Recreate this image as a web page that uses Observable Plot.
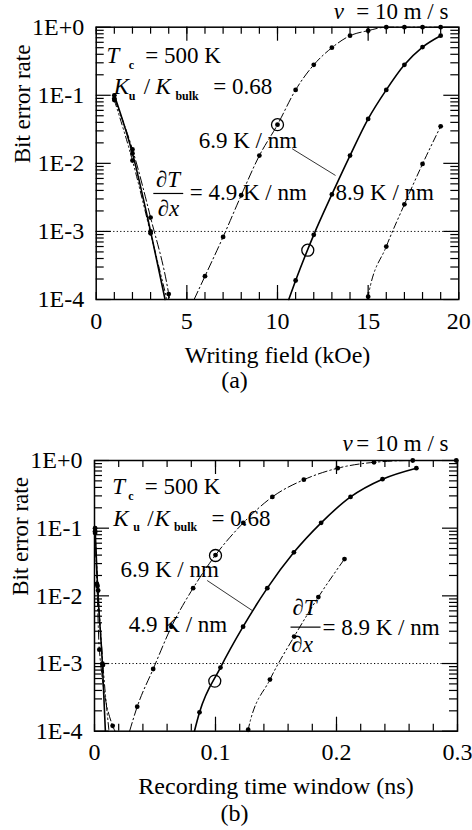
<!DOCTYPE html>
<html>
<head>
<meta charset="utf-8">
<script src="https://cdn.jsdelivr.net/npm/d3@7"></script>
<script src="https://cdn.jsdelivr.net/npm/@observablehq/plot@0.6"></script>
<style>
  html, body { margin: 0; padding: 0; background: #fff; }
  #chart svg { display: block; }
</style>
</head>
<body>
<div id="chart"></div>
<script>
// ---------------- Data ----------------
// Panel (a): bit error rate vs writing field (kOe)
const fieldA_49 = [6, 7, 8, 9, 10, 11, 12, 13, 14, 15, 16, 17, 18, 19];
const berA_49   = [2.2e-4, 8.3e-4, 3.4e-3, 1.3e-2, 3.7e-2, 0.12, 0.28, 0.5, 0.75, 0.89, 1, 1, 1, 1];
const fieldA_69 = [11, 12, 13, 14, 15, 16, 17, 18, 19];
const berA_69   = [1.9e-4, 8.9e-4, 3.5e-3, 1.3e-2, 4.5e-2, 0.12, 0.28, 0.51, 0.75];
const fieldA_89 = [15, 16, 17, 18, 19];
const berA_89   = [1.1e-4, 6e-4, 2.5e-3, 9.8e-3, 3.5e-2];
// low-field (falling) branch
const fieldA_low49 = [1, 2, 3, 4];
const berA_low49   = [0.09, 1.6e-2, 1.6e-3, 1.2e-4];
const fieldA_low69 = [1, 2, 3];
const berA_low69   = [0.1, 1.4e-2, 1.0e-3];
const fieldA_low89 = [1, 2, 3];
const berA_low89   = [0.085, 1.1e-2, 9.4e-4];
// where each drawn curve meets the 1E-4 axis: [low branch, high branch]
const edgeA_49 = [4.05, 5.4];
const edgeA_69 = [3.8, 10.62];
const edgeA_89 = [3.9, 15.0];
// open-circle markers
const circA_x = [10, 11.67];
const circA_y = [3.7e-2, 5.3e-4];

// Panel (b): bit error rate vs recording time window (ns)
const timeB_49 = [0.0353, 0.0485, 0.0636, 0.0815, 0.1, 0.123, 0.147, 0.173, 0.201, 0.231, 0.263, 0.299];
const berB_49  = [2.3e-4, 8.3e-4, 3.5e-3, 1.3e-2, 4.0e-2, 0.12, 0.29, 0.52, 0.77, 0.94, 1, 1];
const timeB_69 = [0.0868, 0.1041, 0.1228, 0.1428, 0.1648, 0.1873, 0.2116, 0.238, 0.266];
const berB_69  = [1.9e-4, 8.7e-4, 3.5e-3, 1.3e-2, 4.4e-2, 0.12, 0.29, 0.53, 0.77];
const timeB_89 = [0.127, 0.145, 0.165, 0.185, 0.2066];
const berB_89  = [1.05e-4, 5.8e-4, 2.5e-3, 9.6e-3, 3.5e-2];
const timeB_low49 = [0.0005, 0.002, 0.004, 0.015];
const berB_low49  = [0.09, 1.5e-2, 1.6e-3, 1.2e-4];
const timeB_low69 = [0.0005, 0.0025, 0.0065];
const berB_low69  = [0.1, 1.4e-2, 1.0e-3];
const timeB_low89 = [0.0005, 0.003, 0.007];
const berB_low89  = [0.085, 1.2e-2, 9.5e-4];
const edgeB_49 = [0.017, 0.029];
const edgeB_69 = [0.009, 0.0826];
const edgeB_89 = [0.012, 0.127];
const circB_x = [0.1, 0.0994];
const circB_y = [3.95e-2, 5.5e-4];

// Axis tick values and labels
const yTickVals   = [1e-4, 1e-3, 1e-2, 1e-1, 1];
const yTickLabels = ["1E-4", "1E-3", "1E-2", "1E-1", "1E+0"];
const xTickValsA   = [0, 5, 10, 15, 20];
const xTickLabelsA = ["0", "5", "10", "15", "20"];
const xTickValsB   = [0, 0.1, 0.2, 0.3];
const xTickLabelsB = ["0", "0.1", "0.2", "0.3"];
const levelRef = 1e-3;
const yTitle = "Bit error rate";

// ---------------- Styles ----------------
const FONT = "'Liberation Serif', 'Times New Roman', serif";
const FS = 23;
const FS_TICK = 24;
const SUB = 12;
const styles = {
  "4.9": {stroke: "black", strokeWidth: 1, strokeDasharray: "9,3,1.5,3"},
  "6.9": {stroke: "black", strokeWidth: 1.6, strokeDasharray: null},
  "8.9": {stroke: "black", strokeWidth: 1, strokeDasharray: "7,3,1.5,3,1.5,3"}
};

const pts = (xs, ys) => xs.map((x, i) => ({x, y: ys[i]}));

const yMinor = [];
for (let e = -4; e < 0; e++) for (let m = 2; m <= 9; m++) yMinor.push(m * Math.pow(10, e));

function makePanel(cfg) {
  const {height, mt, mb, ml, mr} = cfg;
  const plotH = height - mt - mb;
  const plotW = 472 - ml - mr;
  const marks = [];
  marks.push(Plot.ruleY([levelRef], {stroke: "black", strokeWidth: 1, strokeDasharray: "1.2,2.3"}));
  // curves
  for (const s of cfg.series) {
    const st = styles[s.key];
    const low = pts(s.lowX, s.lowY).concat([{x: s.edge[0], y: 1e-4}]);
    const high = [{x: s.edge[1], y: 1e-4}].concat(pts(s.highX, s.highY));
    for (const d of [low, high]) {
      marks.push(Plot.line(d, {x: "x", y: "y", curve: "monotone-x", ...st, strokeDasharray: st.strokeDasharray || undefined}));
    }
    marks.push(Plot.dot(pts(s.lowX, s.lowY).concat(pts(s.highX, s.highY)), {x: "x", y: "y", r: 2.4, fill: "black"}));
  }
  marks.push(Plot.dot(pts(cfg.circX, cfg.circY), {x: "x", y: "y", r: 6, stroke: "black", strokeWidth: 1.3, fill: "none"}));
  marks.push(Plot.frame({stroke: "black", strokeWidth: 1.5}));
  // ticks (inward, all four sides)
  const tk = {stroke: "black", strokeWidth: 1.2};
  marks.push(Plot.tickX(cfg.xMinor, {x: d => d, insetTop: plotH - 7, ...tk}));
  marks.push(Plot.tickX(cfg.xMinor, {x: d => d, insetBottom: plotH - 7, ...tk}));
  marks.push(Plot.tickX(cfg.xMajor, {x: d => d, insetTop: plotH - 14, ...tk}));
  marks.push(Plot.tickX(cfg.xMajor, {x: d => d, insetBottom: plotH - 14, ...tk}));
  marks.push(Plot.tickY(yMinor, {y: d => d, insetRight: plotW - 8, ...tk}));
  marks.push(Plot.tickY(yMinor, {y: d => d, insetLeft: plotW - 8, ...tk}));
  marks.push(Plot.tickY(yTickVals, {y: d => d, insetRight: plotW - 15, ...tk}));
  marks.push(Plot.tickY(yTickVals, {y: d => d, insetLeft: plotW - 15, ...tk}));
  // tick labels
  marks.push(Plot.text(yTickVals, {y: d => d, text: (d, i) => yTickLabels[i], frameAnchor: "left", textAnchor: "end", dx: -12, fontFamily: FONT, fontSize: FS_TICK, fill: "black"}));
  marks.push(Plot.text(cfg.xTickVals, {x: d => d, text: (d, i) => cfg.xTickLabels[i], frameAnchor: "bottom", lineAnchor: "bottom", dy: 29, fontFamily: FONT, fontSize: FS_TICK, fill: "black"}));
  // titles
  marks.push(Plot.text([cfg.xTitle], {text: d => d, frameAnchor: "bottom", lineAnchor: "bottom", dy: cfg.titleDy, fontFamily: FONT, fontSize: 24, fill: "black"}));
  marks.push(Plot.text([cfg.caption], {text: d => d, frameAnchor: "bottom", lineAnchor: "bottom", dx: 234 - (ml + plotW / 2), dy: cfg.capDy, fontFamily: FONT, fontSize: 24, fill: "black"}));
  marks.push(Plot.text([yTitle], {text: d => d, frameAnchor: "left", dx: -74, rotate: -90, fontFamily: FONT, fontSize: FS, fill: "black"}));
  // annotations
  for (const a of cfg.notes) {
    marks.push(Plot.text([a], {x: "x", y: "y", text: "t", textAnchor: a.anchor || "start", lineAnchor: "bottom",
      fontStyle: a.italic ? "italic" : "normal", fontWeight: a.bold ? "bold" : "normal",
      fontFamily: FONT, fontSize: a.size || FS, fill: "black"}));
  }
  for (const l of cfg.links) {
    marks.push(Plot.link([l], {x1: "x1", y1: "y1", x2: "x2", y2: "y2", stroke: "black", strokeWidth: l.w || 0.8}));
  }
  return Plot.plot({
    width: 472, height, marginTop: mt, marginBottom: mb, marginLeft: ml, marginRight: mr,
    x: {domain: cfg.xDomain, axis: null},
    y: {type: "log", domain: [1e-4, 1], axis: null},
    style: {fontFamily: FONT, background: "white", color: "black"},
    marks
  });
}

const panelA = makePanel({
  height: 400, mt: 26.7, mb: 101, ml: 95.7, mr: 13.7,
  xDomain: [0, 20],
  xMinor: d3.range(0, 21, 1), xMajor: [5, 10, 15],
  xTickVals: xTickValsA, xTickLabels: xTickLabelsA,
  xTitle: "Writing field (kOe)", titleDy: 63, caption: "(a)", capDy: 88,
  series: [
    {key: "4.9", lowX: fieldA_low49, lowY: berA_low49, highX: fieldA_49, highY: berA_49, edge: edgeA_49},
    {key: "6.9", lowX: fieldA_low69, lowY: berA_low69, highX: fieldA_69, highY: berA_69, edge: edgeA_69},
    {key: "8.9", lowX: fieldA_low89, lowY: berA_low89, highX: fieldA_89, highY: berA_89, edge: edgeA_89}
  ],
  circX: circA_x, circY: circA_y,
  notes: [
    {t: "v", x: 13.1, y: 1.34, italic: true},
    {t: "= 10 m / s", x: 19.43, y: 1.34, anchor: "end"},
    {t: "T", x: 0.57, y: 0.293, italic: true},
    {t: "c", x: 1.79, y: 0.245, size: SUB, bold: true},
    {t: "= 500 K", x: 6.87, y: 0.293, anchor: "end"},
    {t: "K", x: 0.97, y: 0.105, italic: true},
    {t: "u", x: 1.80, y: 0.0839, size: SUB, bold: true},
    {t: "/", x: 2.62, y: 0.105},
    {t: "K", x: 3.27, y: 0.105, italic: true},
    {t: "bulk", x: 4.37, y: 0.0839, size: SUB, bold: true},
    {t: "= 0.68", x: 9.71, y: 0.105, anchor: "end"},
    {t: "6.9 K / nm", x: 5.65, y: 0.01656},
    {t: "∂T", x: 3.96, y: 0.00443, italic: true, anchor: "middle"},
    {t: "∂x", x: 3.99, y: 0.00166, italic: true, anchor: "middle"},
    {t: "= 4.9 K / nm", x: 5.16, y: 0.00285},
    {t: "8.9 K / nm", x: 13.2, y: 0.00285}
  ],
  links: [
    {x1: 10.81, y1: 0.01637, x2: 13.2, y2: 0.00664},
    {x1: 3.15, y1: 0.00361, x2: 4.8, y2: 0.00361, w: 1.2}
  ]
});

const panelB = makePanel({
  height: 430, mt: 60, mb: 99.3, ml: 94, mr: 15,
  xDomain: [0, 0.3],
  xMinor: d3.range(0, 0.301, 0.02), xMajor: [0.1, 0.2],
  xTickVals: xTickValsB, xTickLabels: xTickLabelsB,
  xTitle: "Recording time window (ns)", titleDy: 62.3, caption: "(b)", capDy: 89.3,
  series: [
    {key: "4.9", lowX: timeB_low49, lowY: berB_low49, highX: timeB_49, highY: berB_49, edge: edgeB_49},
    {key: "6.9", lowX: timeB_low69, lowY: berB_low69, highX: timeB_69, highY: berB_69, edge: edgeB_69},
    {key: "8.9", lowX: timeB_low89, lowY: berB_low89, highX: timeB_89, highY: berB_89, edge: edgeB_89}
  ],
  circX: circB_x, circY: circB_y,
  notes: [
    {t: "v", x: 0.205, y: 1.405, italic: true},
    {t: "= 10 m / s", x: 0.2926, y: 1.405, anchor: "end"},
    {t: "T", x: 0.01463, y: 0.315, italic: true},
    {t: "c", x: 0.0279, y: 0.2566, size: SUB, bold: true},
    {t: "= 500 K", x: 0.1041, y: 0.315, anchor: "end"},
    {t: "K", x: 0.01545, y: 0.106, italic: true},
    {t: "u", x: 0.032, y: 0.0903, size: SUB, bold: true},
    {t: "/", x: 0.0436, y: 0.106},
    {t: "K", x: 0.0496, y: 0.106, italic: true},
    {t: "bulk", x: 0.0656, y: 0.0903, size: SUB, bold: true},
    {t: "= 0.68", x: 0.1455, y: 0.106, anchor: "end"},
    {t: "6.9 K / nm", x: 0.0215, y: 0.0187},
    {t: "4.9 K / nm", x: 0.0284, y: 0.00291},
    {t: "∂T", x: 0.1736, y: 0.00513, italic: true, anchor: "middle"},
    {t: "∂x", x: 0.1716, y: 0.00147, italic: true, anchor: "middle"},
    {t: "= 8.9 K / nm", x: 0.1884, y: 0.0026}
  ],
  links: [
    {x1: 0.0931, y1: 0.01687, x2: 0.1303, y2: 0.00608},
    {x1: 0.162, y1: 0.00345, x2: 0.1868, y2: 0.00345, w: 1.2}
  ]
});

const root = document.getElementById("chart");
root.appendChild(panelA);
root.appendChild(panelB);
</script>
</body>
</html>
